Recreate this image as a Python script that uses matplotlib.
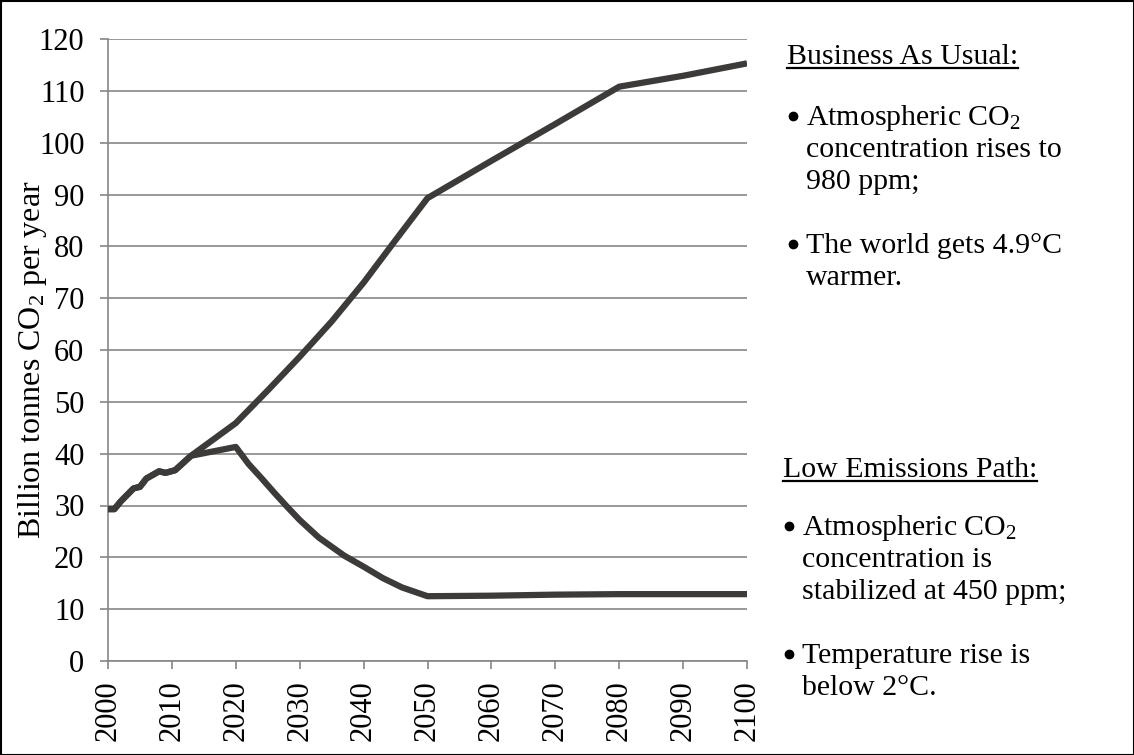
import matplotlib
matplotlib.use("Agg")
import matplotlib.pyplot as plt
from matplotlib.patches import Rectangle
from matplotlib.lines import Line2D

plt.rcParams['font.family'] = ['Liberation Serif', 'DejaVu Serif']
plt.rcParams['mathtext.fontset'] = 'custom'
plt.rcParams['mathtext.rm'] = 'Liberation Serif'
plt.rcParams['mathtext.it'] = 'Liberation Serif:italic'
plt.rcParams['mathtext.default'] = 'regular'

# ---- data ----
bau_years = [2000, 2001, 2002, 2004, 2005, 2006, 2008, 2009, 2010.5, 2013, 2020,
             2025, 2030, 2035, 2040, 2045, 2050, 2060, 2070, 2080, 2090, 2100]
bau_values = [29.3, 29.3, 30.8, 33.3, 33.6, 35.2, 36.6, 36.3, 36.8, 39.6, 45.9,
              52.2, 58.7, 65.5, 73.0, 81.2, 89.3, 96.5, 103.6, 110.8, 112.9, 115.3]

low_years = [2000, 2001, 2002, 2004, 2005, 2006, 2008, 2009, 2010.5, 2013, 2020,
             2022, 2024, 2026, 2028, 2030, 2033, 2037, 2040, 2043, 2046, 2050,
             2060, 2070, 2080, 2090, 2100]
low_values = [29.3, 29.3, 30.8, 33.3, 33.6, 35.2, 36.6, 36.3, 36.8, 39.6, 41.3,
              38.0, 35.3, 32.5, 29.8, 27.2, 23.8, 20.3, 18.2, 16.0, 14.2, 12.5,
              12.6, 12.8, 12.9, 12.9, 12.9]

x_ticks = list(range(2000, 2101, 10))
y_ticks = list(range(0, 121, 10))

LINE = '#3d3a3a'
GRID = '#868686'

W, H = 1134, 755
fig = plt.figure(figsize=(W/100, H/100), dpi=100)
ax = fig.add_axes([108/W, 1-661/H, (747-108)/W, (661-39)/H])

for xs, ys in [(bau_years, bau_values), (low_years, low_values)]:
    ax.plot(xs, ys, color=LINE, lw=4.5, solid_joinstyle='round',
            solid_capstyle='butt', zorder=3)

ax.set_xlim(2000, 2100)
ax.set_ylim(0, 120)
ax.set_xticks(x_ticks)
ax.set_xticklabels([str(t) for t in x_ticks], rotation=90, fontsize=22)
ax.set_yticks(y_ticks)
ax.set_yticklabels([str(t) for t in y_ticks], fontsize=22)
ax.yaxis.grid(True, color=GRID, lw=1.2)
ax.set_axisbelow(True)
for s in ['top', 'right']:
    ax.spines[s].set_visible(False)
for s in ['left', 'bottom']:
    ax.spines[s].set_color(GRID)
    ax.spines[s].set_linewidth(1.2)
ax.tick_params(axis='both', direction='out', length=6, width=1.2, color=GRID,
               labelcolor='black')
ax.tick_params(axis='y', pad=11)
ax.tick_params(axis='x', pad=8)

fig.text(33/W, 1-360/H, 'Billion tonnes CO$_2$ per year', rotation=90,
         ha='center', va='center', fontsize=23)

FS = 21.5
def underlined(x, y, s):
    t = fig.text(x/W, 1-y/H, s, fontsize=FS, ha='left', va='baseline')
    fig.canvas.draw()
    bb = t.get_window_extent()
    yl = 1 - (y + 4)/H
    fig.add_artist(Line2D([bb.x0/W, bb.x1/W], [yl, yl], color='black',
                          lw=1.6, transform=fig.transFigure))

def line(x, y, s):
    fig.text(x/W, 1-y/H, s, fontsize=FS, ha='left', va='baseline')

def bullet(x, y):
    fig.add_artist(Line2D([x/W], [1-(y-9)/H], marker='o', markersize=6,
                          color='black', linestyle='none',
                          transform=fig.transFigure))

underlined(787, 64, 'Business As Usual:')
bullet(793, 125)
line(806, 125, 'Atmospheric CO$_2$')
line(806, 157, 'concentration rises to')
line(806, 189, '980 ppm;')
bullet(793, 253)
line(806, 253, 'The world gets 4.9°C')
line(806, 285, 'warmer.')

underlined(783, 477, 'Low Emissions Path:')
bullet(789, 535)
line(802, 535, 'Atmospheric CO$_2$')
line(802, 567, 'concentration is')
line(802, 599, 'stabilized at 450 ppm;')
bullet(789, 663)
line(802, 663, 'Temperature rise is')
line(802, 695, 'below 2°C.')

fig.add_artist(Rectangle((0.5/W, 0.5/H), 1-1/W, 1-1/H,
                         transform=fig.transFigure, fill=False,
                         edgecolor='black', lw=1.5))

fig.savefig('out.png', dpi=100)
